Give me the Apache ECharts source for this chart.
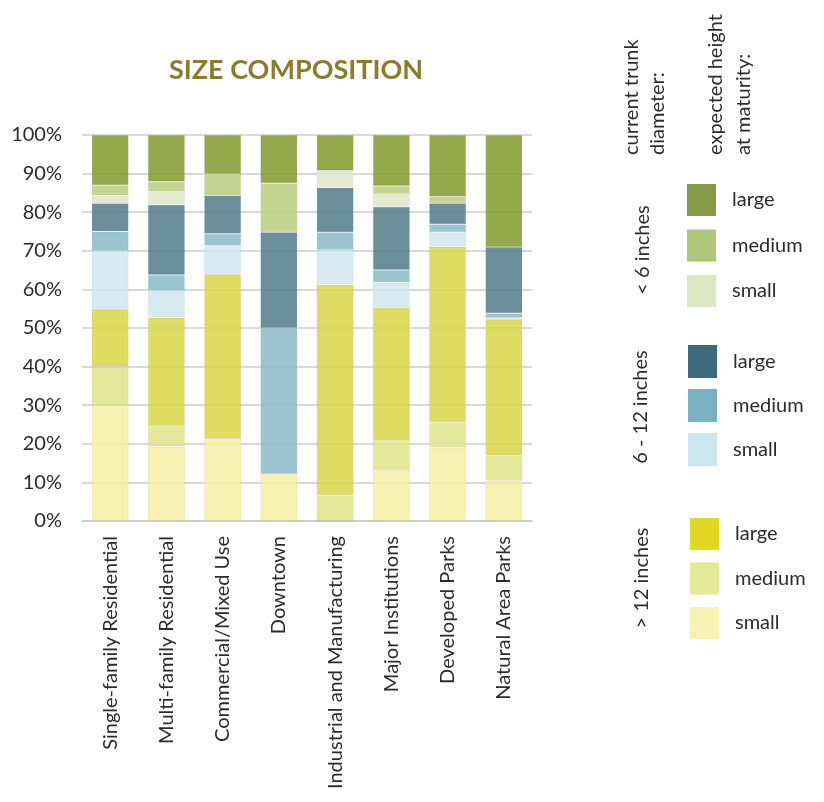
<!DOCTYPE html>
<html>
<head>
<meta charset="utf-8">
<title>Size Composition</title>
<script src="https://cdn.jsdelivr.net/npm/echarts@6/dist/echarts.min.js"></script>
<style>
  html, body { margin: 0; padding: 0; background: #fff; }
  #chart { width: 824px; height: 802px; }
</style>
</head>
<body>
<div id="chart"></div>
<script>
// Land-use categories along the x axis
const categories = [
  'Single-family Residential',
  'Multi-family Residential',
  'Commercial/Mixed Use',
  'Downtown',
  'Industrial and Manufacturing',
  'Major Institutions',
  'Developed Parks',
  'Natural Area Parks'
];

// Share of trees (%) per trunk-diameter class and expected mature height
const over12Small  = [30.0, 19.3, 21.4, 12.4,  0.0, 13.0, 19.1, 10.4];
const over12Medium = [10.0,  5.3,  0.0,  0.0,  6.7,  7.7,  6.5,  6.5];
const over12Large  = [15.0, 28.1, 42.6,  0.0, 54.6, 34.7, 45.5, 35.4];
const mid612Small  = [15.0,  7.1,  7.3,  0.0,  8.9,  6.4,  3.7,  0.3];
const mid612Medium = [ 5.0,  3.9,  3.1, 37.6,  4.6,  3.2,  2.1,  1.2];
const mid612Large  = [ 7.3, 18.2,  9.9, 24.8, 11.6, 16.4,  5.4, 17.2];
const under6Small  = [ 2.0,  3.4,  0.0,  0.0,  4.4,  3.3,  0.0,  0.0];
const under6Medium = [ 2.7,  2.6,  5.6, 12.7,  0.0,  2.1,  1.7,  0.0];
const under6Large  = [13.0, 12.1, 10.1, 12.5,  9.2, 13.2, 16.0, 29.0];

const yTicks = [0, 10, 20, 30, 40, 50, 60, 70, 80, 90, 100];

const FONT = 'Lato, "Noto Sans", sans-serif';
const TEXT_COLOR = '#2b2b2b';

// Stack order from the bottom up; swatch colour + bar fill colour
const layers = [
  { name: '> 12 inches – small',  size: 'small',  data: over12Small,  swatch: '#f7f2b1', fill: '#f6eea4' },
  { name: '> 12 inches – medium', size: 'medium', data: over12Medium, swatch: '#e5e898', fill: '#dee488' },
  { name: '> 12 inches – large',  size: 'large',  data: over12Large,  swatch: '#e2d723', fill: '#d8d648' },
  { name: '6 - 12 inches – small',  size: 'small',  data: mid612Small,  swatch: '#cae6ef', fill: '#d0e6ef' },
  { name: '6 - 12 inches – medium', size: 'medium', data: mid612Medium, swatch: '#7ab1c3', fill: '#89bac9' },
  { name: '6 - 12 inches – large',  size: 'large',  data: mid612Large,  swatch: '#3f6c7d', fill: '#507a88' },
  { name: '< 6 inches – small',  size: 'small',  data: under6Small,  swatch: '#dbe6c3', fill: '#dfe7ca' },
  { name: '< 6 inches – medium', size: 'medium', data: under6Medium, swatch: '#adc67a', fill: '#bccc7e' },
  { name: '< 6 inches – large',  size: 'large',  data: under6Large,  swatch: '#879a48', fill: '#83992b' }
];

const sizeOf = {};
layers.forEach(l => { sizeOf[l.name] = l.size; });

const series = layers.map(l => ({
  name: l.name,
  type: 'bar',
  stack: 'share',
  barCategoryGap: '34%',
  data: l.data,
  itemStyle: { color: l.fill, opacity: 0.85, borderColor: 'rgba(0,0,0,0.05)', borderWidth: 1 },
  emphasis: { disabled: true }
}));

function legendFor(group, left, top, itemHeight, itemGap) {
  const items = layers.filter(l => l.name.startsWith(group)).reverse();
  return {
    orient: 'vertical',
    left: left,
    top: top,
    itemWidth: 29,
    itemHeight: itemHeight,
    itemGap: itemGap,
    selectedMode: false,
    icon: 'rect',
    padding: 0,
    formatter: name => sizeOf[name],
    textStyle: { fontFamily: FONT, fontSize: 20, color: TEXT_COLOR, padding: [0, 0, 0, 11] },
    data: items.map(l => ({ name: l.name, itemStyle: { color: l.swatch, opacity: 1, borderWidth: 0 } }))
  };
}

const chart = echarts.init(document.getElementById('chart'), null, { renderer: 'canvas' });

const rotatedText = (text, x, y, align, verticalAlign, lineHeight) => ({
  type: 'text',
  x: x,
  y: y,
  rotation: Math.PI / 2,
  style: {
    text: text,
    fontFamily: FONT,
    fontSize: 20,
    fill: TEXT_COLOR,
    align: align,
    verticalAlign: verticalAlign,
    lineHeight: lineHeight
  }
});

chart.setOption({
  backgroundColor: '#ffffff',
  animation: false,
  title: {
    text: 'SIZE COMPOSITION',
    left: 291,
    top: 52,
    textAlign: 'center',
    textStyle: { fontFamily: FONT, fontSize: 27, fontWeight: 'bold', color: '#8b7b2b' }
  },
  grid: { left: 82, right: 292, top: 135, bottom: 281 },
  xAxis: {
    type: 'category',
    data: categories,
    axisTick: { show: false },
    axisLine: { lineStyle: { color: '#c8c8c8', width: 1.5 } },
    axisLabel: { interval: 0, rotate: 90, margin: 15, fontFamily: FONT, fontSize: 20, color: TEXT_COLOR }
  },
  yAxis: {
    type: 'value',
    min: yTicks[0],
    max: yTicks[yTicks.length - 1],
    interval: yTicks[1] - yTicks[0],
    axisLine: { show: false },
    axisTick: { show: false },
    splitLine: { lineStyle: { color: '#cdcdcd', width: 1.5 } },
    axisLabel: { margin: 20, fontFamily: FONT, fontSize: 20, color: TEXT_COLOR, formatter: '{value}%' }
  },
  legend: [
    legendFor('< 6 inches', 687, 184, 32, 13.5),
    legendFor('6 - 12 inches', 688, 345, 33, 11),
    legendFor('> 12 inches', 690, 518, 32, 12.5)
  ],
  graphic: [
    rotatedText('current trunk\ndiameter:', 618, 155, 'left', 'top', 26.5),
    rotatedText('expected height\nat maturity:', 702, 155, 'left', 'top', 28),
    rotatedText('< 6 inches', 643, 250, 'center', 'middle', 22),
    rotatedText('6 - 12 inches', 641, 407, 'center', 'middle', 22),
    rotatedText('> 12 inches', 642, 578, 'center', 'middle', 22)
  ],
  series: series
});
</script>
</body>
</html>
